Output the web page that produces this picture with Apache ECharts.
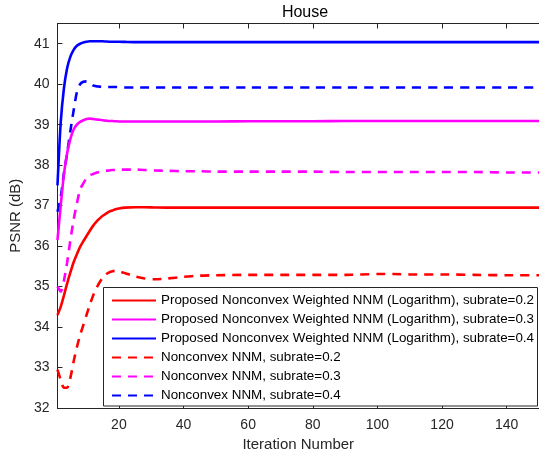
<!DOCTYPE html>
<html>
<head>
<meta charset="utf-8">
<script src="https://cdn.jsdelivr.net/npm/echarts@6/dist/echarts.min.js"></script>
<style>html,body{margin:0;padding:0;background:#fff;}#c{width:539px;height:462px;}</style>
</head>
<body>
<div id="c"></div>
<script>
const iters = [1,2,3,4,5,6,7,8,9,10,11,12,13,14,15,16,17,18,19,20,22,25,28,31,35,40,45,50,60,70,80,90,100,105,110,120,130,140,150];

const prop02 = [34.3,34.5,34.78,35.08,35.35,35.6,35.8,35.98,36.12,36.25,36.38,36.5,36.6,36.68,36.75,36.8,36.85,36.88,36.91,36.93,36.95,36.96,36.96,36.955,36.95,36.95,36.95,36.95,36.95,36.95,36.95,36.95,36.95,36.95,36.95,36.95,36.95,36.95,36.95];
const prop03 = [36.15,37.0,37.78,38.3,38.65,38.88,39.0,39.07,39.11,39.14,39.15,39.14,39.13,39.12,39.11,39.1,39.09,39.09,39.085,39.08,39.08,39.08,39.08,39.08,39.08,39.08,39.08,39.08,39.085,39.085,39.085,39.09,39.09,39.09,39.09,39.09,39.09,39.09,39.09];
const prop04 = [37.5,39.05,39.9,40.4,40.68,40.85,40.95,41.0,41.03,41.05,41.06,41.06,41.06,41.06,41.06,41.055,41.05,41.05,41.05,41.05,41.045,41.04,41.04,41.04,41.04,41.04,41.04,41.04,41.04,41.04,41.04,41.04,41.04,41.04,41.04,41.04,41.04,41.04,41.04];
const ncvx02 = [32.95,32.7,32.5,32.5,32.75,33.15,33.5,33.8,34.05,34.3,34.55,34.77,34.95,35.1,35.22,35.3,35.35,35.38,35.39,35.38,35.33,35.25,35.2,35.18,35.2,35.24,35.27,35.28,35.29,35.29,35.29,35.29,35.31,35.31,35.3,35.3,35.29,35.28,35.28];
const ncvx03 = [35.0,34.88,35.15,35.6,36.15,36.65,37.05,37.4,37.55,37.68,37.75,37.78,37.81,37.83,37.85,37.86,37.87,37.88,37.88,37.89,37.89,37.89,37.88,37.87,37.86,37.85,37.85,37.84,37.84,37.84,37.84,37.83,37.83,37.83,37.83,37.83,37.83,37.82,37.82];
const ncvx04 = [36.85,37.2,37.8,38.3,38.85,39.35,39.8,40.0,40.06,40.07,40.03,39.97,39.95,39.94,39.93,39.93,39.93,39.93,39.93,39.93,39.92,39.92,39.92,39.92,39.92,39.92,39.92,39.92,39.92,39.92,39.92,39.92,39.92,39.92,39.92,39.92,39.92,39.92,39.92];

const xTicks = [20,40,60,80,100,120,140];
const yTicks = [32,33,34,35,36,37,38,39,40,41];

const names = [
  'Proposed Nonconvex Weighted NNM (Logarithm), subrate=0.2',
  'Proposed Nonconvex Weighted NNM (Logarithm), subrate=0.3',
  'Proposed Nonconvex Weighted NNM (Logarithm), subrate=0.4',
  'Nonconvex NNM, subrate=0.2',
  'Nonconvex NNM, subrate=0.3',
  'Nonconvex NNM, subrate=0.4'
];
const colors = ['#ff0000','#ff00ff','#0000ff','#ff0000','#ff00ff','#0000ff'];
const values = [prop02, prop03, prop04, ncvx02, ncvx03, ncvx04];
const dashed = [false,false,false,true,true,true];

const axisColor = '#262626';
const font = 'Liberation Sans, Arial, sans-serif';

const series = values.map((v, k) => ({
  name: names[k],
  type: 'line',
  data: iters.map((x, i) => [x, v[i]]),
  symbol: 'none',
  smooth: 0.25,
  z: 2 + (5 - k),
  lineStyle: { color: colors[k], width: 2.6, type: dashed[k] ? [9, 7] : 'solid' },
  itemStyle: { color: colors[k] }
}));

const chart = echarts.init(document.getElementById('c'), null, { renderer: 'canvas' });
chart.setOption({
  animation: false,
  backgroundColor: '#ffffff',
  title: {
    text: 'House', left: 300, top: 0, textAlign: 'center',
    textStyle: { fontFamily: font, fontSize: 16, fontWeight: 'normal', color: '#000' }
  },
  grid: { left: 57, top: 23.5, right: -6, bottom: 54, containLabel: false },
  xAxis: [{
    type: 'value', min: 1, max: 150,
    name: 'Iteration Number', nameLocation: 'middle', nameGap: 26,
    nameTextStyle: { fontFamily: font, fontSize: 15, color: axisColor },
    axisLine: { show: true, lineStyle: { color: axisColor, width: 1 } },
    axisTick: { show: true, inside: true, length: 5, customValues: xTicks, lineStyle: { color: axisColor } },
    axisLabel: { customValues: xTicks, margin: 10, fontFamily: font, fontSize: 14, color: axisColor },
    splitLine: { show: false }
  }, {
    type: 'value', min: 1, max: 150, position: 'top',
    axisLine: { show: true, lineStyle: { color: axisColor, width: 1 } },
    axisTick: { show: true, inside: true, length: 5, customValues: xTicks, lineStyle: { color: axisColor } },
    axisLabel: { show: false },
    splitLine: { show: false }
  }],
  yAxis: [{
    type: 'value', min: 32, max: 41.5,
    name: 'PSNR (dB)', nameLocation: 'middle', nameGap: 26, nameRotate: 90,
    nameTextStyle: { fontFamily: font, fontSize: 15, color: axisColor },
    axisLine: { show: true, lineStyle: { color: axisColor, width: 1 } },
    axisTick: { show: true, inside: true, length: 5, customValues: yTicks, lineStyle: { color: axisColor } },
    axisLabel: { customValues: yTicks, margin: 8, fontFamily: font, fontSize: 14, color: axisColor },
    splitLine: { show: false }
  }],
  legend: {
    orient: 'vertical', left: 111, top: 294, padding: 0,
    itemWidth: 44, itemHeight: 12, itemGap: 6, z: 60,
    textStyle: { fontFamily: font, fontSize: 13.4, color: '#000' },
    itemStyle: { color: 'rgba(0,0,0,0)', borderWidth: 0, opacity: 0 },
    data: names
  },
  graphic: [{
    type: 'rect', z: 50,
    shape: { x: 103.5, y: 287.5, width: 434, height: 118.5 },
    style: { fill: '#ffffff', stroke: axisColor, lineWidth: 1 }
  }],
  series: series
});
</script>
</body>
</html>
